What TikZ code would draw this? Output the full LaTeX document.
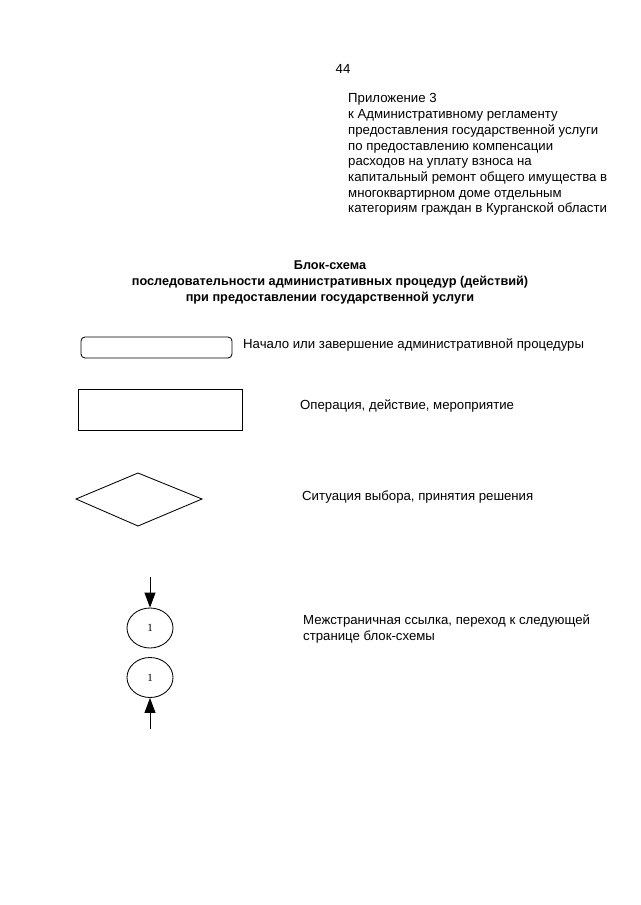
\documentclass[tikz,border=0pt]{standalone}
\usepackage{fontspec}
\setmainfont{Liberation Sans}
\newfontfamily\serifnum{Liberation Serif}
\usetikzlibrary{arrows.meta,positioning,shapes.geometric}

\begin{document}
\begin{tikzpicture}[x=1pt,y=-1pt,
  every node/.style={font=\fontsize{13.2}{15.7}\selectfont,inner sep=0pt},
  lbl/.style={anchor=west,align=left},
  shp/.style={draw,line width=0.85pt},
  conn/.style={draw,ellipse,line width=0.85pt,minimum width=46pt,minimum height=40pt,
    font=\serifnum\fontsize{11}{12}\selectfont},
  arr/.style={line width=0.85pt,-{Triangle[length=15pt,width=11pt]}}]
\useasboundingbox (0,0) rectangle (640,905);
\node (page) at (343,69) {44};
\node[anchor=north west,align=left] (app) at (348,93.5) {Приложение 3\\
к Административному регламенту\\
предоставления государственной услуги\\
по предоставлению компенсации\\
расходов на уплату взноса на\\
капитальный ремонт общего имущества в\\
многоквартирном доме отдельным\\
категориям граждан в Курганской области};
\node[align=center,font=\bfseries\fontsize{12.7}{16.4}\selectfont] (title) at (330,282.5)
  {Блок-схема\\последовательности административных процедур (действий)\\при предоставлении государственной услуги};
\draw[shp,rounded corners=4pt] (81,337) rectangle (232,358);
\node[lbl] (termtxt) at (243,345) {Начало или завершение административной процедуры};
\draw[shp] (78,389) rectangle (242,430);
\node[lbl] (proctxt) at (300,405.5) {Операция, действие, мероприятие};
\draw[shp] (76,499) -- (138,473) -- (202,499) -- (138,526) -- cycle;
\node[lbl] (dectxt) at (302,497.5) {Ситуация выбора, принятия решения};
\node[conn] (outc) at (150,628) {1};
\node[conn] (inc) at (150,677.5) {1};
\coordinate (outtail) at (150,577);
\coordinate (intail) at (150,729);
\draw[arr] (outtail) -- (outc);
\draw[arr] (intail) -- (inc);
\node[lbl] (reftxt) at (303,629) {Межстраничная ссылка, переход к следующей\\странице блок-схемы};
\end{tikzpicture}
\end{document}
